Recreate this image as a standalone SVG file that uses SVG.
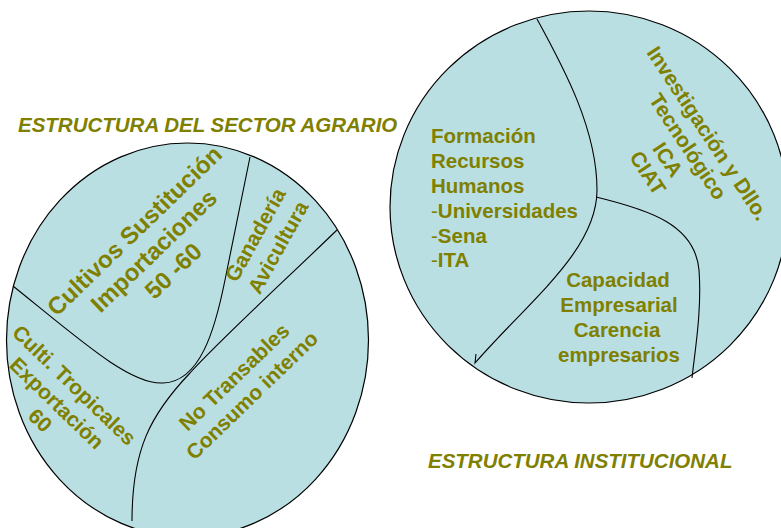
<svg xmlns="http://www.w3.org/2000/svg" width="781" height="528" viewBox="0 0 781 528">
<style>
.shape{fill:#BADFE3;stroke:#000;stroke-width:1.2}
.line{fill:none;stroke:#000;stroke-width:1.1}
text{font-family:"Liberation Sans",Arial,sans-serif;font-weight:bold;fill:#808000}
.c{text-anchor:middle}
.t{font-style:italic;font-size:20.5px}
</style>
<rect width="781" height="528" fill="#fff"/>
<g id="sector-agrario">
<ellipse class="shape" cx="187.5" cy="340" rx="181" ry="197"/>
</g>
<g id="estructura-institucional">
<ellipse class="shape" cx="589" cy="207" rx="199" ry="196"/>
</g>
<g id="connectors">
<path class="line" d="M13,286 C80,340 130,385 163,383 C200,382 215,330 225,280 C235,230 245,180 250,157"/>
<path class="line" d="M337,230 C280,285 220,340 190,373 C150,415 132,450 132,521"/>
<path class="line" d="M537,19 C565,70 597,130 597,190 C597,250 530,300 475,363 L476,354"/>
<path class="line" d="M596,197 C650,210 695,225 699,270 C702,310 695,350 692,378"/>
</g>
<g id="title-agrario"><text class="t" x="18" y="132">ESTRUCTURA DEL SECTOR AGRARIO</text></g>
<g id="title-institucional"><text class="t" x="428" y="468">ESTRUCTURA INSTITUCIONAL</text></g>
<g id="cultivos-sustitucion">
<text class="c" font-size="24" transform="translate(154,251) rotate(-44)"><tspan x="0" y="-20">Cultivos Sustitución</tspan><tspan x="0" y="8">Importaciones</tspan><tspan x="0" y="36">50 -60</tspan></text>
</g>
<g id="ganaderia">
<text class="c" font-size="21" transform="translate(266.5,241) rotate(-61)"><tspan x="0" y="-5.6">Ganadería</tspan><tspan x="0" y="20.4">Avicultura</tspan></text>
</g>
<g id="culti-tropicales">
<text class="c" font-size="21" transform="translate(57,403) rotate(44)"><tspan x="0" y="-17.6">Culti. Tropicales</tspan><tspan x="0" y="7.4">Exportación</tspan><tspan x="0" y="31.4">60</tspan></text>
</g>
<g id="no-transables">
<text class="c" font-size="21" transform="translate(243,386) rotate(-44)"><tspan x="0" y="-5.4">No Transables</tspan><tspan x="0" y="20.2">Consumo interno</tspan></text>
</g>
<g id="formacion">
<text font-size="20.5"><tspan x="431" y="143">Formación</tspan><tspan x="431" y="168">Recursos</tspan><tspan x="431" y="193">Humanos</tspan><tspan x="431" y="218"><tspan font-weight="normal">-</tspan>Universidades</tspan><tspan x="431" y="243"><tspan font-weight="normal">-</tspan>Sena</tspan><tspan x="431" y="267"><tspan font-weight="normal">-</tspan>ITA</tspan></text>
</g>
<g id="capacidad">
<text class="c" font-size="20.5"><tspan x="618" y="287">Capacidad</tspan><tspan x="619" y="312">Empresarial</tspan><tspan x="617" y="337">Carencia</tspan><tspan x="619" y="362">empresarios</tspan></text>
</g>
<g id="investigacion">
<text class="c" font-size="21" transform="translate(678,153) rotate(56.6)"><tspan x="0" y="-28.6">Investigación y Dllo.</tspan><tspan x="0" y="-4.6">Tecnológico</tspan><tspan x="0" y="19.4">ICA</tspan><tspan x="0" y="43.4">CIAT</tspan></text>
</g>
</svg>
